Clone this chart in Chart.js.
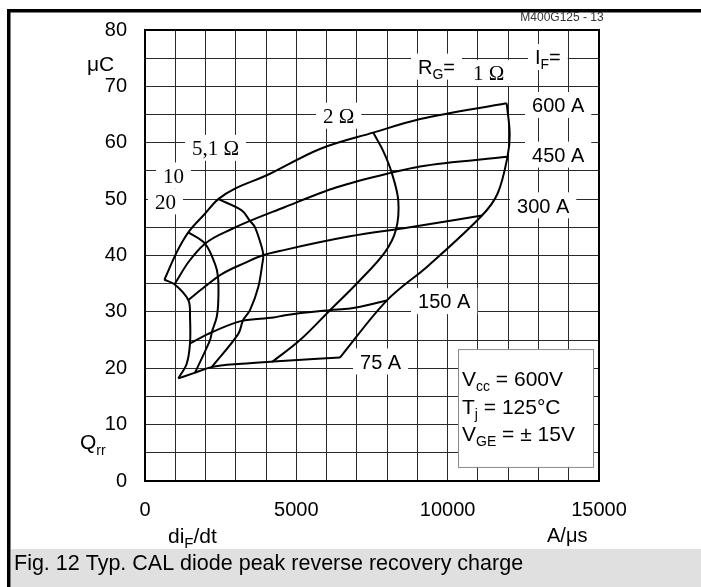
<!DOCTYPE html>
<html><head><meta charset="utf-8">
<script src="https://cdn.jsdelivr.net/npm/chart.js@4.4.1/dist/chart.umd.min.js"></script>
<style>html,body{margin:0;padding:0;background:#fff;overflow:hidden}canvas{display:block}</style>
</head><body>
<canvas id="c" width="701" height="587"></canvas>
<script>
// ---- tick labels ----
const xTickValues = [0, 5000, 10000, 15000];
const yTickValues = [0, 10, 20, 30, 40, 50, 60, 70, 80];

// ---- constant I_F curves (di_F/dt in A/us, Qrr in uC), from R_G = 20 ohm to 1 ohm ----
const if600_x = [640, 1050, 1430, 1980, 2420, 4130, 5780, 7540, 9090, 11950];
const if600_y = [35.7, 40.6, 44.1, 47.4, 50.0, 54.5, 58.9, 61.8, 64.2, 67.0];
const if450_x = [975, 1431, 1982, 2865, 4626, 6334, 8151, 9086, 11977];
const if450_y = [34.9, 38.8, 42.1, 44.7, 48.6, 52.1, 54.7, 55.8, 57.5];
const if300_x = [1431, 1982, 2534, 3304, 3876, 4626, 6773, 8756, 11134];
const if300_y = [32.1, 34.5, 36.7, 38.7, 40.0, 41.0, 43.4, 45.0, 47.1];
const if150_x = [1487, 2092, 3195, 4239, 4626, 6112, 6773, 7986];
const if150_y = [24.4, 26.1, 28.4, 29.0, 29.4, 30.3, 30.6, 32.0];
const if75_x  = [1100, 1586, 2204, 3195, 4239, 6443];
const if75_y  = [18.2, 19.1, 20.2, 20.8, 21.2, 21.9];

// ---- constant R_G curves, from I_F = 600 A down to 75 A ----
const rg20_x  = [638, 975, 1431, 1487, 1487, 1378, 1100];
const rg20_y  = [35.7, 34.9, 32.1, 29.1, 24.4, 20.8, 18.2];
const rg10_x  = [1431, 1982, 2313, 2412, 2422, 2369, 2214, 2148, 1652];
const rg10_y  = [44.1, 42.1, 38.5, 36.2, 32.0, 29.1, 26.5, 25.0, 19.2];
const rg5_x   = [2420, 3195, 3459, 3634, 3856, 3909, 3876, 3743, 3469, 3238, 3083, 2204];
const rg5_y   = [50.0, 48.0, 46.2, 45.0, 41.5, 40.0, 38.5, 34.4, 30.3, 28.5, 26.1, 20.2];
const rg2_x   = [7540, 7864, 8151, 8369, 8293, 7930, 7048, 6112, 5121, 4196];
const rg2_y   = [61.8, 58.6, 54.7, 49.7, 44.6, 40.6, 35.3, 30.3, 25.0, 21.1];
const rg1_x   = [11950, 12050, 11977, 11650, 11134, 9360, 7986, 6443];
const rg1_y   = [67.0, 61.5, 57.5, 51.0, 47.1, 38.2, 32.0, 21.9];

const SANS = '"Liberation Sans", Arial, Helvetica, sans-serif';
const SERIF = '"Liberation Serif", "Times New Roman", serif';

function pts(xs, ys){ return xs.map((x,i)=>({x:x, y:ys[i]})); }
function ifSet(xs, ys){ return {data:pts(xs,ys), showLine:true, borderColor:'#000', borderWidth:2, pointRadius:0, fill:false, cubicInterpolationMode:'monotone'}; }
function rgSet(xs, ys){ return {data:pts(xs,ys), showLine:true, borderColor:'#000', borderWidth:2, pointRadius:0, fill:false, tension:0.35}; }

const datasets = [
  ifSet(if600_x, if600_y), ifSet(if450_x, if450_y), ifSet(if300_x, if300_y),
  ifSet(if150_x, if150_y), ifSet(if75_x, if75_y),
  rgSet(rg20_x, rg20_y), rgSet(rg10_x, rg10_y), rgSet(rg5_x, rg5_y),
  rgSet(rg2_x, rg2_y), rgSet(rg1_x, rg1_y)
];

// ---- in-plot labels (anchor: left edge / vertical centre, in data units) ----
const plotLabels = [
  {parts:[{t:'R'},{t:'G',size:14,dy:5},{t:'='}], x:9020, y:73.5},
  {parts:[{t:'1 Ω', fam:SERIF, size:21}], x:10837, y:72.4},
  {parts:[{t:'I'},{t:'F',size:14,dy:5},{t:'='}], x:12886, y:75.2},
  {parts:[{t:'600 A'}], x:12787, y:66.7},
  {parts:[{t:'450 A'}], x:12787, y:57.9},
  {parts:[{t:'300 A'}], x:12291, y:48.9},
  {parts:[{t:'150 A'}], x:9020, y:31.9},
  {parts:[{t:'75 A'}], x:7104, y:21.2},
  {parts:[{t:'2 Ω', fam:SERIF, size:21}], x:5881, y:64.8},
  {parts:[{t:'5,1 Ω', fam:SERIF, size:21}], x:1553, y:59.1},
  {parts:[{t:'10', fam:SERIF, size:21}], x:595, y:54.2},
  {parts:[{t:'20', fam:SERIF, size:21}], x:330, y:49.6}
];
const legendBox = {x0:10342, x1:14802, y0:2.5, y1:23.4};
const legendLines = [
  {parts:[{t:'V',size:21},{t:'cc',size:14,dy:5},{t:' = 600V',size:21}], x:10474, y:18.2},
  {parts:[{t:'T',size:21},{t:'j',size:14,dy:5},{t:' = 125°C',size:21}], x:10474, y:13.3},
  {parts:[{t:'V',size:21},{t:'GE',size:14,dy:5},{t:' = ± 15V',size:21}], x:10474, y:8.5}
];

function richWidth(ctx, parts){
  let w=0; for(const p of parts){ ctx.font=(p.size||20)+'px '+(p.fam||SANS); w+=ctx.measureText(p.t).width; } return w;
}
function drawRich(ctx, parts, x, cy){
  let cx=x; ctx.textBaseline='alphabetic'; ctx.textAlign='left';
  const base = cy + 0.36*(parts[0].size||20);
  for(const p of parts){ ctx.font=(p.size||20)+'px '+(p.fam||SANS); ctx.fillText(p.t, cx, base+(p.dy||0)); cx+=ctx.measureText(p.t).width; }
  return cx-x;
}

const decor = {
  id:'decor',
  beforeDraw(chart){
    const ctx=chart.ctx; ctx.save();
    ctx.fillStyle='#fff'; ctx.fillRect(0,0,chart.width,chart.height);
    ctx.restore();
  },
  beforeDatasetsDraw(chart){
    const ctx=chart.ctx, xs=chart.scales.x, ys=chart.scales.y, a=chart.chartArea;
    ctx.save();
    ctx.fillStyle='#fff';
    for(const L of plotLabels){
      const px=xs.getPixelForValue(L.x), py=ys.getPixelForValue(L.y);
      const w=richWidth(ctx,L.parts);
      ctx.fillRect(px-7, py-13, w+14, 26);
    }
    ctx.lineWidth=2; ctx.strokeStyle='#000';
    ctx.strokeRect(a.left, a.top, a.right-a.left, a.bottom-a.top);
    ctx.restore();
  },
  afterDatasetsDraw(chart){
    const ctx=chart.ctx, xs=chart.scales.x, ys=chart.scales.y;
    ctx.save(); ctx.fillStyle='#000';
    for(const L of plotLabels){ drawRich(ctx, L.parts, xs.getPixelForValue(L.x), ys.getPixelForValue(L.y)); }
    const bx0=xs.getPixelForValue(legendBox.x0), bx1=xs.getPixelForValue(legendBox.x1);
    const by0=ys.getPixelForValue(legendBox.y1), by1=ys.getPixelForValue(legendBox.y0);
    ctx.fillStyle='#fff'; ctx.fillRect(bx0,by0,bx1-bx0,by1-by0);
    ctx.strokeStyle='#8a8a8a'; ctx.lineWidth=1; ctx.strokeRect(bx0+0.5,by0+0.5,bx1-bx0,by1-by0);
    ctx.fillStyle='#000';
    for(const L of legendLines){ drawRich(ctx, L.parts, xs.getPixelForValue(L.x), ys.getPixelForValue(L.y)); }
    ctx.restore();
  },
  afterDraw(chart){
    const ctx=chart.ctx; ctx.save();
    // caption band
    ctx.fillStyle='#e0e0e0'; ctx.fillRect(11,549,690,38);
    // outer frame
    ctx.fillStyle='#000'; ctx.fillRect(7,9,694,3.5); ctx.fillRect(7,9,3.5,578);
    // texts
    ctx.fillStyle='#000';
    drawRich(ctx,[{t:'Fig. 12 Typ. CAL diode peak reverse recovery charge',size:21.5}],14,562);
    ctx.fillStyle='#333';
    ctx.font='12px '+SANS; ctx.textAlign='center'; ctx.textBaseline='middle';
    ctx.fillText('M400G125 - 13',562,18);
    ctx.fillStyle='#000';
    drawRich(ctx,[{t:'μC',size:21}],87,63);
    drawRich(ctx,[{t:'Q',size:21},{t:'rr',size:14,dy:6}],80,441);
    drawRich(ctx,[{t:'di',size:21},{t:'F',size:15,dy:5},{t:'/dt',size:21}],168,535);
    drawRich(ctx,[{t:'A/μs',size:20}],547,535);
    ctx.restore();
  }
};

new Chart(document.getElementById('c'), {
  type:'scatter',
  data:{datasets},
  options:{
    responsive:false, animation:false, devicePixelRatio:1,
    layout:{padding:{left:0, top:29, right:102, bottom:56}},
    plugins:{legend:{display:false}, tooltip:{enabled:false}, title:{display:false}},
    elements:{point:{radius:0}},
    scales:{
      x:{type:'linear', min:0, max:15000,
         afterFit(s){ s.height=50; },
         ticks:{stepSize:1000, autoSkip:false, maxRotation:0, padding:17, color:'#000',
                font:{family:SANS, size:20},
                callback(v){ return xTickValues.includes(v) ? String(v) : ''; }},
         grid:{color:'#2a2a2a', lineWidth:1, drawTicks:false},
         border:{color:'#000', width:2}},
      y:{type:'linear', min:0, max:80,
         afterFit(s){ s.width=145; },
         ticks:{stepSize:5, autoSkip:false, padding:18, color:'#000',
                font:{family:SANS, size:20},
                callback(v){ return yTickValues.includes(v) ? String(v) : ''; }},
         grid:{color:'#2a2a2a', lineWidth:1, drawTicks:false},
         border:{color:'#000', width:2}}
    }
  },
  plugins:[decor]
});
</script>
</body></html>
